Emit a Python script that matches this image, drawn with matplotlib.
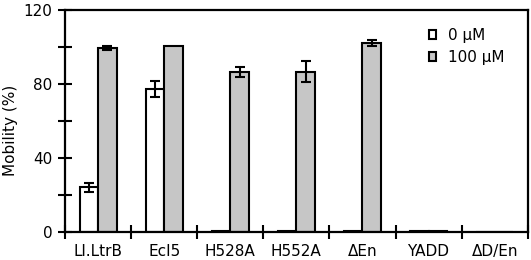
import matplotlib
matplotlib.use("Agg")
import matplotlib.pyplot as plt
import numpy as np
from matplotlib.patches import Patch

plt.rcParams['font.family'] = ['DejaVu Sans']

categories = ['Ll.LtrB', 'EcI5', 'H528A', 'H552A', 'ΔEn', 'YADD', 'ΔD/En']
mob_0uM = [24.2, 77.3, 0.8, 0.8, 0.8, 0.8, 0.0]
err_0uM = [2.2, 4.5, 0, 0, 0, 0, 0]
mob_100uM = [99.6, 100.5, 86.6, 86.7, 102.2, 0.8, 0.0]
err_100uM = [1.0, 0, 2.6, 5.7, 1.8, 0, 0]
series_labels = ['0 μM', '100 μM']
yticks_major = [0, 40, 80, 120]

FS = 11
fig = plt.figure(figsize=(5.31, 2.60), dpi=100)
ax = fig.add_axes([0.1224, 0.1065, 0.8714, 0.855])

n = len(categories)
x = np.arange(n) + 0.5
w = 0.28
gray = '#c6c6c6'

ax.bar(x - w / 2, mob_0uM, w, color='white', edgecolor='black', linewidth=1.5, zorder=2)
ax.bar(x + w / 2, mob_100uM, w, color=gray, edgecolor='black', linewidth=1.5, zorder=2)

for xi, v, e in zip(x - w / 2, mob_0uM, err_0uM):
    if e > 0:
        ax.errorbar(xi, v, yerr=e, fmt='none', ecolor='black', elinewidth=1.5, capsize=3.6, capthick=1.5, zorder=3)
for xi, v, e in zip(x + w / 2, mob_100uM, err_100uM):
    if e > 0:
        ax.errorbar(xi, v, yerr=e, fmt='none', ecolor='black', elinewidth=1.5, capsize=3.6, capthick=1.5, zorder=3)

ax.set_xlim(0, n)
ax.set_ylim(0, 120)
ax.set_xticks(x)
ax.set_xticklabels(categories, fontsize=FS)
ax.set_xticks(np.arange(n + 1), minor=True)
ax.tick_params(axis='x', which='major', length=0, pad=8.5)
ax.tick_params(axis='x', which='minor', direction='inout', length=10, width=1.5)
ax.set_yticks(yticks_major)
ax.set_yticks(np.arange(0, 121, 20), minor=True)
ax.tick_params(axis='y', which='both', direction='inout', length=10, width=1.5, labelsize=FS)
ax.tick_params(axis='y', which='major', pad=4)
ax.set_ylabel('Mobility (%)', fontsize=FS)
ax.yaxis.set_label_coords(-0.102, 0.46)

for s in ax.spines.values():
    s.set_linewidth(1.6)

handles = [Patch(facecolor='white', edgecolor='black', linewidth=1.5),
           Patch(facecolor=gray, edgecolor='black', linewidth=1.5)]
ax.legend(handles, series_labels, loc='upper left',
          bbox_to_anchor=((429 - 65) / 462.7, (232.3 - 28) / 222.3),
          frameon=False, fontsize=FS, handlelength=0.45, handleheight=0.45,
          handletextpad=0.8, labelspacing=0.45, borderpad=0, borderaxespad=0)

fig.savefig('out.png', dpi=100)
